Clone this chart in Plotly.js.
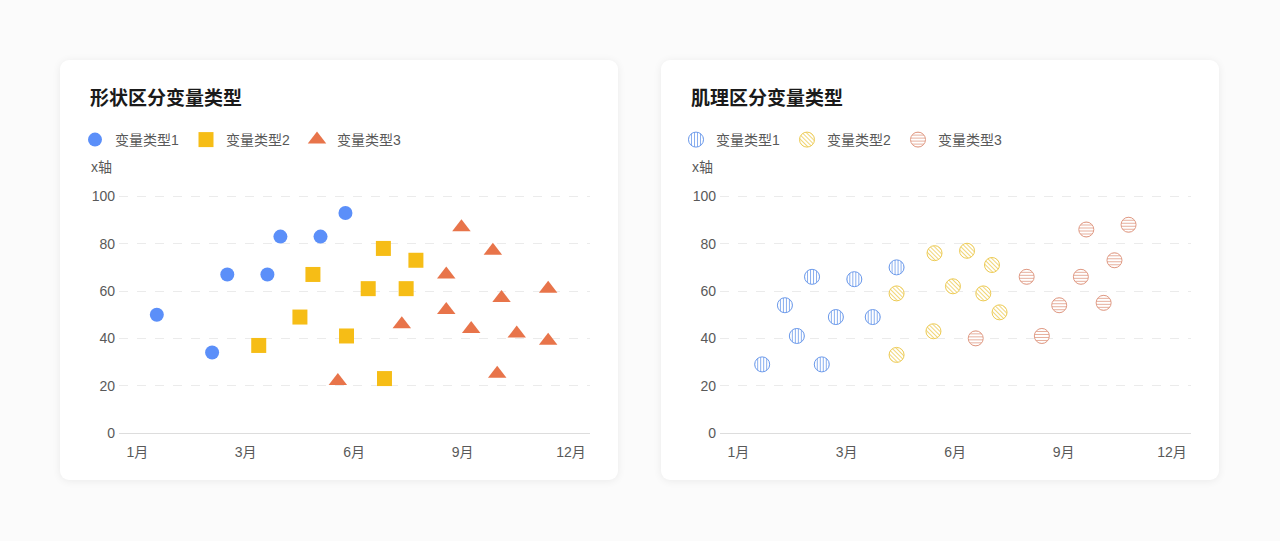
<!DOCTYPE html>
<html>
<head>
<meta charset="utf-8">
<script src="https://cdn.plot.ly/plotly-3.0.1.min.js"></script>
<style>
    html, body { margin: 0; padding: 0; }
    body {
        width: 1280px;
        height: 541px;
        background: #fbfbfb;
        position: relative;
        overflow: hidden;
    }
    .card {
        position: absolute;
        top: 60px;
        width: 558px;
        height: 420px;
        background: #fff;
        border-radius: 9px;
        box-shadow: 0 1px 8px rgba(0, 0, 0, 0.07);
    }
    #card-shape { left: 60px; }
    #card-texture { left: 661px; }
    .plot { width: 558px; height: 420px; }
</style>
</head>
<body>
<div class="card" id="card-shape"><div class="plot" id="plot-shape"></div></div>
<div class="card" id="card-texture"><div class="plot" id="plot-texture"></div></div>

<script>
// x positions are in tick slots: 0 = 1月, 1 = 3月, 2 = 6月, 3 = 9月, 4 = 12月
const tickVals = [0, 1, 2, 3, 4];
const tickText = ["1月", "3月", "6月", "9月", "12月"];
const seriesNames = ["变量类型1", "变量类型2", "变量类型3"];

// left chart: shape
const shapeX1 = [0.18, 0.69, 0.83, 1.2, 1.32, 1.69, 1.92];
const shapeY1 = [50, 34, 67, 67, 83, 83, 93];
const shapeX2 = [1.12, 1.5, 1.62, 1.93, 2.13, 2.27, 2.28, 2.48, 2.57];
const shapeY2 = [37, 49, 67, 41, 61, 78, 23, 61, 73];
const shapeX3 = [1.85, 2.44, 2.85, 2.85, 2.99, 3.08, 3.28, 3.32, 3.36, 3.5, 3.79, 3.79];
const shapeY3 = [22, 46, 67, 52, 87, 44, 77, 25, 57, 42, 61, 39];

// right chart: texture
const textureX1 = [0.22, 0.43, 0.54, 0.68, 0.77, 0.9, 1.07, 1.24, 1.46];
const textureY1 = [29, 54, 41, 66, 29, 49, 65, 49, 70];
const textureX2 = [1.46, 1.46, 1.8, 1.81, 1.98, 2.11, 2.26, 2.34, 2.41];
const textureY2 = [59, 33, 43, 76, 62, 77, 59, 71, 51];
const textureX3 = [2.19, 2.66, 2.8, 2.96, 3.16, 3.21, 3.37, 3.47, 3.6];
const textureY3 = [40, 66, 41, 54, 66, 86, 55, 73, 88];

const colors = ["#5B8FF9", "#F6BD16", "#E8744A"];
const textureStroke = ["#6C9AEB", "#EDCB55", "#E09A84"];

const fontFamily = '"Liberation Sans", "Noto Sans CJK SC", sans-serif';
const textGray = "#595959";

/**
 * Build the shared layout for one card.
 */
function baseLayout(title) {
    return {
        width: 558,
        height: 420,
        margin: { l: 59, r: 28, t: 134, b: 47 },
        paper_bgcolor: "rgba(0,0,0,0)",
        plot_bgcolor: "rgba(0,0,0,0)",
        font: { family: fontFamily, color: textGray, size: 14 },
        title: {
            text: title,
            font: { size: 19, color: "#1a1a1a", weight: "bold", family: fontFamily },
            xref: "container",
            yref: "container",
            x: 30 / 558,
            xanchor: "left",
            y: 1 - 38 / 420,
            yanchor: "middle",
            pad: { t: 0, b: 0, l: 0, r: 0 }
        },
        showlegend: true,
        legend: {
            orientation: "h",
            xref: "container",
            yref: "container",
            x: 15 / 558,
            xanchor: "left",
            y: 1 - 80 / 420,
            yanchor: "middle",
            font: { size: 14, color: textGray },
            entrywidth: 66,
            itemclick: false
        },
        xaxis: {
            range: [-0.169, 4.176],
            tickvals: tickVals,
            ticktext: tickText,
            showgrid: false,
            zeroline: false,
            showline: true,
            linecolor: "#dddddd",
            linewidth: 1,
            ticks: "",
            ticklabelstandoff: 6,
            tickfont: { size: 14, color: textGray },
            fixedrange: true
        },
        yaxis: {
            // a little over 100 so the top grid line is not clipped away
            range: [0, 101],
            tickvals: [0, 20, 40, 60, 80, 100],
            showgrid: true,
            gridcolor: "#ebebeb",
            griddash: "dash",
            zeroline: false,
            showline: false,
            ticks: "",
            ticklabelstandoff: 3,
            tickfont: { size: 14, color: textGray },
            fixedrange: true
        },
        annotations: [{
            text: "x轴",
            xref: "paper",
            yref: "paper",
            x: (29 - 59) / 471,
            xanchor: "left",
            y: (373 - 107) / 239,
            yanchor: "middle",
            showarrow: false,
            font: { size: 14, color: textGray }
        }]
    };
}

const config = { displayModeBar: false, staticPlot: true };

(function drawShapeChart() {
    const symbols = ["circle", "square", "triangle-up"];
    const sizes = [14, 15, 16];
    const xs = [shapeX1, shapeX2, shapeX3];
    const ys = [shapeY1, shapeY2, shapeY3];

    const data = xs.map((x, i) => ({
        type: "scatter",
        mode: "markers",
        name: seriesNames[i],
        x: x,
        y: ys[i],
        cliponaxis: false,
        marker: { symbol: symbols[i], size: sizes[i], color: colors[i], line: { width: 0 } }
    }));

    Plotly.newPlot("plot-shape", data, baseLayout("形状区分变量类型"), config);
})();

(function drawTextureChart() {
    const xs = [textureX1, textureX2, textureX3];
    const ys = [textureY1, textureY2, textureY3];

    const data = xs.map((x, i) => ({
        type: "scatter",
        mode: "markers",
        name: seriesNames[i],
        x: x,
        y: ys[i],
        cliponaxis: false,
        marker: { symbol: "circle", size: 15, color: "#ffffff", line: { width: 1, color: textureStroke[i] } }
    }));

    Plotly.newPlot("plot-texture", data, baseLayout("肌理区分变量类型"), config).then(applyHatches);
})();

/**
 * Plotly scatter markers have no pattern fill, so add svg hatch patterns
 * and point the drawn markers (and legend symbols) at them.
 */
function applyHatches(gd) {
    const ns = "http://www.w3.org/2000/svg";
    const defs = gd.querySelector("svg.main-svg defs");
    const angles = [0, -45, 90];

    angles.forEach((angle, i) => {
        const pattern = document.createElementNS(ns, "pattern");
        pattern.setAttribute("id", "hatch" + i);
        pattern.setAttribute("patternUnits", "userSpaceOnUse");
        pattern.setAttribute("width", "3");
        pattern.setAttribute("height", "3");
        pattern.setAttribute("patternTransform", `rotate(${angle})`);

        const bg = document.createElementNS(ns, "rect");
        bg.setAttribute("width", "3");
        bg.setAttribute("height", "3");
        bg.setAttribute("fill", "#ffffff");
        pattern.appendChild(bg);

        const line = document.createElementNS(ns, "line");
        line.setAttribute("x1", "1.5");
        line.setAttribute("y1", "0");
        line.setAttribute("x2", "1.5");
        line.setAttribute("y2", "3");
        line.setAttribute("stroke", textureStroke[i]);
        line.setAttribute("stroke-width", "0.8");
        pattern.appendChild(line);

        defs.appendChild(pattern);
    });

    gd.querySelectorAll(".scatterlayer .trace").forEach((trace, i) => {
        trace.querySelectorAll("path.point").forEach(p => { p.style.fill = `url(#hatch${i})`; });
    });

    gd.querySelectorAll(".legend .traces").forEach((item, i) => {
        item.querySelectorAll("path.scatterpts").forEach(p => { p.style.fill = `url(#hatch${i})`; });
    });
}
</script>
</body>
</html>
